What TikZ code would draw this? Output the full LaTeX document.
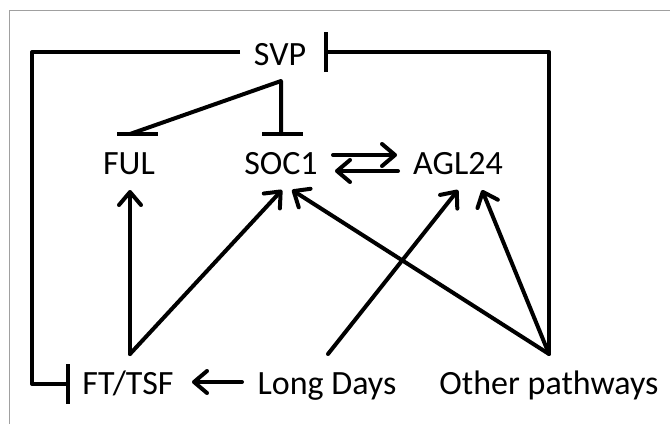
\documentclass[tikz,border=0pt]{standalone}
\usepackage{fontspec}
\setmainfont{Carlito}
\usetikzlibrary{arrows.meta}
\definecolor{framegray}{RGB}{160,160,160}
\tikzset{
  gene/.style={inner sep=0pt, anchor=base, font=\fontsize{34}{40}\selectfont},
  link/.style={line width=4pt, line cap=round, line join=round},
  act/.style={link, -{Straight Barb[length=13pt,width=22pt,line cap=round,line join=round]}},
  inh/.style={link, line cap=butt, -{Bar[width=40pt]}},
  bar/.style={line width=4pt, line cap=butt},
}
\begin{document}
\begin{tikzpicture}[x=1pt,y=-1pt]
  \useasboundingbox (0,0) rectangle (670,424);
  % partial frame
  \draw[framegray, line width=1pt] (9,424) -- (9,10) -- (670,10);

  % genes and inputs
  \node[gene] (SVP)  at (280,65)  {SVP};
  \node[gene] (FUL)  at (129,174) {FUL};
  \node[gene] (SOC1) at (281,174) {SOC1};
  \node[gene] (AGL)  at (458,174) {AGL24};
  \node[gene] (FT)   at (128,394) {FT/TSF};
  \node[gene] (LD)   at (327,394) {Long Days};
  \node[gene] (OP)   at (549,394) {Other pathways};

  % anchor points for connectors
  \coordinate (svpL)   at (240,52);
  \coordinate (cornTL) at (32,52);
  \coordinate (cornBL) at (32,384);
  \coordinate (ftBar)  at (70,384);
  \coordinate (svpBar) at (324,52);
  \coordinate (cornTR) at (549,52);
  \coordinate (opTop)  at (549,354);
  \coordinate (apex)   at (281,81);
  \coordinate (socBar) at (281,134);
  \coordinate (fulEnd) at (130,134);
  \coordinate (fulBarL) at (117,134);
  \coordinate (fulBarR) at (158,134);
  \coordinate (ftTop)  at (130,354);
  \coordinate (ldTop)  at (328,354);
  \coordinate (fulIn)  at (130,190);
  \coordinate (socInA) at (282,190);
  \coordinate (socInB) at (292,190);
  \coordinate (aglInA) at (458,190);
  \coordinate (aglInB) at (482,190);
  \coordinate (socR1)  at (333,155);
  \coordinate (aglL1)  at (397,155);
  \coordinate (aglL2)  at (398,171);
  \coordinate (socR2)  at (335,171);
  \coordinate (ldL)    at (242,382);
  \coordinate (ftR)    at (192,382);

  % SVP represses FT/TSF
  \draw[inh] (svpL) -- (cornTL) -- (cornBL) -- (ftBar);
  % other pathways repress SVP
  \draw[inh] (opTop) -- (cornTR) -- (svpBar);
  % SVP represses SOC1 and FUL
  \draw[link] (fulEnd) -- (apex) -- (socBar);
  \draw[bar] (262,134) -- (303,134);
  \draw[bar] (fulBarL) -- (fulBarR);

  % SOC1 <-> AGL24
  \draw[act] (socR1) -- (aglL1);
  \draw[act] (aglL2) -- (socR2);

  % activations
  \draw[act] (ftTop) -- (fulIn);
  \draw[act] (ftTop) -- (socInA);
  \draw[act] (ldL) -- (ftR);
  \draw[act] (ldTop) -- (aglInA);
  \draw[act] (opTop) -- (socInB);
  \draw[act] (opTop) -- (aglInB);
\end{tikzpicture}
\end{document}
